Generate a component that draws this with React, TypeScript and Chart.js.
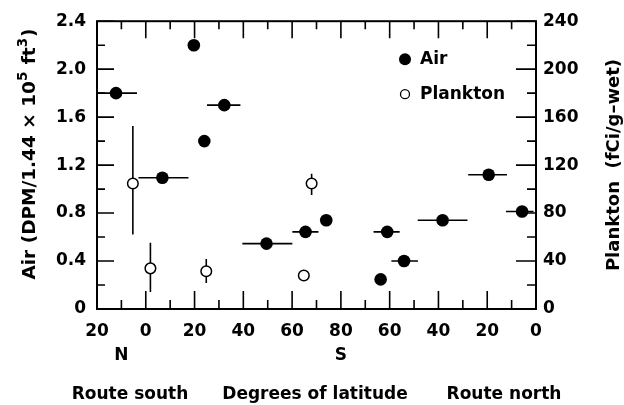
import React, { useEffect, useRef } from "react";
import { Chart, registerables } from "chart.js";

Chart.register(...registerables);

// ---- data ----
const xTickLabels = ["20", "0", "20", "40", "60", "80", "60", "40", "20", "0"];

// x is distance along the route in degrees (0 = 20N, 20 = equator, 100 = 80S, 180 = equator on return)
const airX = [7.8, 26.8, 39.7, 44, 52.2, 69.5, 85.5, 94, 119, 116.3, 125.9, 141.7, 160.6, 174.3];
const airY = [1.8, 1.095, 2.2, 1.4, 1.7, 0.545, 0.643, 0.74, 0.643, 0.247, 0.4, 0.74, 1.12, 0.813];
const airXMin = [0, 17, null, null, 45.1, 59.6, 80.1, null, 113.4, null, 120.7, 131.5, 152.2, 167.7];
const airXMax = [16.4, 37.5, null, null, 58.8, 80.1, 90.8, null, 124.1, null, 131.6, 151.9, 168.1, 179];

const plX = [14.7, 21.9, 44.8, 84.8, 88];
const plY = [104.6, 33.9, 31.5, 27.9, 104.6];
const plYMin = [62.2, 14.2, 21.6, null, 95];
const plYMax = [152.6, 55.3, 41.6, null, 112.8];

const FONT = "'DejaVu Sans', sans-serif";

function hSegments(xs: number[], ys: number[], mins: (number | null)[], maxs: (number | null)[]) {
  const out: any[] = [];
  xs.forEach((_, i) => {
    if (mins[i] == null || maxs[i] == null) return;
    out.push({ x: mins[i], y: ys[i] }, { x: maxs[i], y: ys[i] }, { x: maxs[i], y: null });
  });
  return out;
}
function vSegments(xs: number[], mins: (number | null)[], maxs: (number | null)[]) {
  const out: any[] = [];
  xs.forEach((x, i) => {
    if (mins[i] == null || maxs[i] == null) return;
    out.push({ x, y: mins[i] }, { x, y: maxs[i] }, { x, y: null });
  });
  return out;
}

const framePlugin = {
  id: "frameTicks",
  beforeDatasetsDraw(chart: any) {
    const { ctx, chartArea: a, scales } = chart;
    ctx.save();
    ctx.strokeStyle = "#000";
    ctx.lineWidth = 2;
    ctx.strokeRect(a.left, a.top, a.right - a.left, a.bottom - a.top);
    ctx.lineWidth = 1.6;
    ctx.beginPath();
    const x = scales.x;
    for (let v = 0; v <= 180; v += 10) {
      const px = x.getPixelForValue(v);
      const major = v % 20 === 0;
      const lb = major ? 18 : 9;
      const lt = major ? 17 : 8;
      ctx.moveTo(px, a.bottom);
      ctx.lineTo(px, a.bottom - lb);
      ctx.moveTo(px, a.top);
      ctx.lineTo(px, a.top + lt);
    }
    const y = scales.y;
    for (let i = 0; i <= 12; i++) {
      const py = y.getPixelForValue(i * 0.2);
      const len = i % 2 === 0 ? 17 : 8;
      ctx.moveTo(a.left, py);
      ctx.lineTo(a.left + len, py);
    }
    const y2 = scales.y2;
    for (let v = 0; v <= 240; v += 20) {
      const py = y2.getPixelForValue(v);
      const len = v % 40 === 0 ? 20 : 9;
      ctx.moveTo(a.right, py);
      ctx.lineTo(a.right - len, py);
    }
    ctx.stroke();
    ctx.restore();
  },
  afterDraw(chart: any) {
    const { ctx, chartArea: a, scales } = chart;
    ctx.save();
    ctx.fillStyle = "#000";
    ctx.strokeStyle = "#000";

    // legend
    ctx.beginPath();
    ctx.arc(a.right - 131, a.top + 38, 6, 0, Math.PI * 2);
    ctx.fill();
    ctx.beginPath();
    ctx.lineWidth = 1.3;
    ctx.arc(a.right - 131, a.top + 73, 4.5, 0, Math.PI * 2);
    ctx.stroke();
    ctx.font = `bold 17px ${FONT}`;
    ctx.textAlign = "left";
    ctx.textBaseline = "middle";
    ctx.fillText("Air", a.right - 116, a.top + 38);
    ctx.fillText("Plankton", a.right - 116, a.top + 73);

    // N / S markers
    ctx.textAlign = "center";
    ctx.fillText("N", scales.x.getPixelForValue(10), a.bottom + 47);
    ctx.fillText("S", scales.x.getPixelForValue(100), a.bottom + 47);

    // bottom captions
    ctx.fillText("Route south", a.left + 33, a.bottom + 86);
    ctx.fillText("Degrees of latitude", a.left + 218, a.bottom + 86);
    ctx.fillText("Route north", a.left + 407, a.bottom + 86);

    // left title with superscripts
    const parts: [string, boolean][] = [
      ["Air (DPM/1.44 \u00d7 10", false],
      ["5", true],
      [" ft", false],
      ["3", true],
      [")", false],
    ];
    const big = `bold 18.5px ${FONT}`;
    const small = `bold 13.5px ${FONT}`;
    let total = 0;
    parts.forEach(([t, sup]) => {
      ctx.font = sup ? small : big;
      total += ctx.measureText(t).width + (sup ? 1 : 0);
    });
    ctx.save();
    ctx.translate(30, 154);
    ctx.rotate(-Math.PI / 2);
    ctx.textAlign = "left";
    ctx.textBaseline = "middle";
    let cx = -total / 2;
    parts.forEach(([t, sup]) => {
      ctx.font = sup ? small : big;
      ctx.fillText(t, cx, sup ? -7 : 0);
      cx += ctx.measureText(t).width + (sup ? 1 : 0);
    });
    ctx.restore();

    // right title
    ctx.save();
    ctx.translate(614, 165);
    ctx.rotate(-Math.PI / 2);
    ctx.font = `bold 18px ${FONT}`;
    ctx.textAlign = "center";
    ctx.textBaseline = "middle";
    ctx.fillText("Plankton  (fCi/g\u2013wet)", 0, 0);
    ctx.restore();

    ctx.restore();
  },
};

export default function App() {
  const ref = useRef<HTMLCanvasElement>(null);
  useEffect(() => {
    if (!ref.current) return;
    const tickFont = { family: FONT, size: 17, weight: "bold" as const };
    const chart = new Chart(ref.current, {
      type: "scatter",
      data: {
        datasets: [
          {
            type: "line",
            data: hSegments(airX, airY, airXMin, airXMax),
            borderColor: "#000",
            borderWidth: 1.6,
            pointRadius: 0,
            spanGaps: false,
            yAxisID: "y",
            order: 3,
          } as any,
          {
            type: "line",
            data: vSegments(plX, plYMin, plYMax),
            borderColor: "#000",
            borderWidth: 1.6,
            pointRadius: 0,
            spanGaps: false,
            yAxisID: "y2",
            order: 3,
          } as any,
          {
            label: "Air",
            data: airX.map((x, i) => ({ x, y: airY[i] })),
            backgroundColor: "#000",
            borderColor: "#000",
            pointRadius: 6.3,
            borderWidth: 0,
            yAxisID: "y",
            order: 1,
          },
          {
            label: "Plankton",
            data: plX.map((x, i) => ({ x, y: plY[i] })),
            backgroundColor: "#fff",
            borderColor: "#000",
            pointRadius: 5.3,
            borderWidth: 1.5,
            yAxisID: "y2",
            order: 0,
          },
        ],
      },
      options: {
        animation: false,
        responsive: false,
        devicePixelRatio: 1,
        layout: { padding: { top: 17, left: 0, right: 0, bottom: 0 } },
        plugins: { legend: { display: false }, tooltip: { enabled: false } },
        scales: {
          x: {
            type: "linear",
            position: "bottom",
            min: 0,
            max: 180,
            grid: { display: false, drawTicks: false },
            border: { display: false },
            ticks: {
              stepSize: 20,
              autoSkip: false,
              maxRotation: 0,
              padding: 12,
              color: "#000",
              font: tickFont,
              callback: (v: any) => xTickLabels[Math.round(Number(v) / 20)] ?? "",
            },
            afterFit: (s: any) => {
              s.height = 96;
            },
          },
          y: {
            type: "linear",
            position: "left",
            min: 0,
            max: 2.4,
            grid: { display: false, drawTicks: false },
            border: { display: false },
            ticks: {
              stepSize: 0.4,
              padding: 11,
              color: "#000",
              font: tickFont,
              callback: (v: any) => (Number(v) === 0 ? "0" : Number(v).toFixed(1)),
            },
            afterFit: (s: any) => {
              s.width = 97;
            },
          },
          y2: {
            type: "linear",
            position: "right",
            min: 0,
            max: 240,
            grid: { display: false, drawTicks: false },
            border: { display: false },
            ticks: {
              stepSize: 40,
              padding: 7,
              color: "#000",
              font: tickFont,
            },
            afterFit: (s: any) => {
              s.width = 88;
            },
          },
        },
      },
      plugins: [framePlugin],
    });
    return () => chart.destroy();
  }, []);
  return (
    <div style={{ position: "fixed", left: 0, top: 0, width: 624, height: 405, background: "#fff" }}>
      <canvas ref={ref} width={624} height={405} style={{ display: "block" }} />
    </div>
  );
}
